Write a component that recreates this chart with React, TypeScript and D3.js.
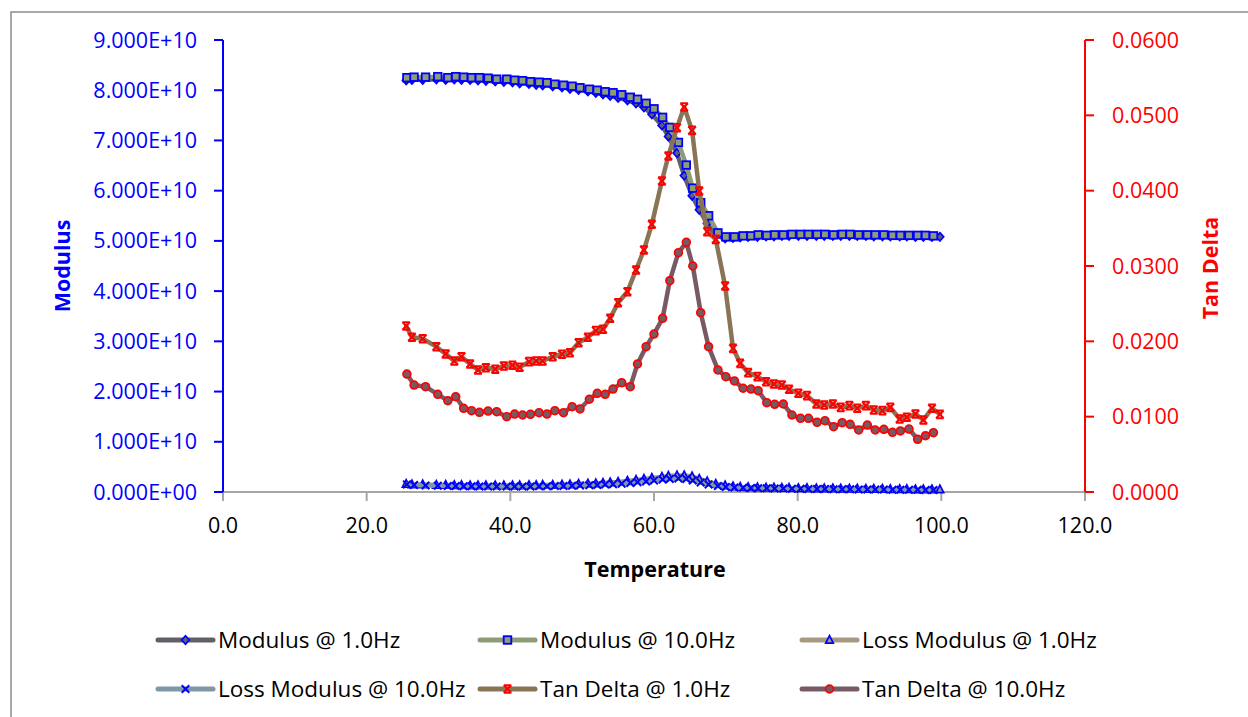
import React from 'react';
import * as d3 from 'd3';

// ---------- DATA ----------
const temp1Hz = [25.5, 26.3, 27.8, 29.7, 31.0, 32.2, 33.2, 34.4, 35.5, 36.6,
  37.9, 39.1, 40.3, 41.3, 42.6, 43.6, 44.5, 45.9, 47.2, 48.3,
  49.5, 50.8, 51.9, 52.9, 53.9, 55.0, 56.3, 57.5, 58.6, 59.7,
  61.1, 62.0, 63.2, 64.2, 65.3, 66.3, 67.4, 68.6, 69.9, 71.0,
  72.0, 73.1, 74.4, 75.6, 76.7, 77.8, 78.8, 80.1, 81.3, 82.6,
  83.7, 84.9, 86.0, 87.2, 88.3, 89.5, 90.6, 91.8, 92.9, 94.2,
  95.2, 96.4, 97.5, 98.7, 99.8];

const temp10Hz = [25.6, 26.6, 28.2, 29.9, 31.3, 32.4, 33.5, 34.6, 35.7, 36.9,
  38.1, 39.5, 40.6, 41.7, 42.8, 44.0, 45.1, 46.2, 47.4, 48.6,
  49.7, 51.0, 52.1, 53.2, 54.3, 55.5, 56.7, 57.7, 58.9, 60.0,
  61.2, 62.2, 63.4, 64.5, 65.4, 66.5, 67.6, 68.9, 70.0, 71.2,
  72.4, 73.5, 74.5, 75.7, 76.8, 78.0, 79.2, 80.4, 81.5, 82.7,
  83.8, 85.0, 86.2, 87.3, 88.5, 89.7, 90.8, 92.0, 93.2, 94.3,
  95.5, 96.7, 97.8, 98.9];

const modulus1Hz = [8.20e10, 8.21e10, 8.21e10, 8.22e10, 8.21e10, 8.22e10, 8.21e10, 8.21e10, 8.20e10, 8.19e10,
  8.18e10, 8.17e10, 8.16e10, 8.14e10, 8.13e10, 8.11e10, 8.10e10, 8.08e10, 8.06e10, 8.03e10,
  8.01e10, 7.98e10, 7.95e10, 7.92e10, 7.89e10, 7.85e10, 7.80e10, 7.74e10, 7.66e10, 7.52e10,
  7.30e10, 7.08e10, 6.75e10, 6.30e10, 5.90e10, 5.62e10, 5.35e10, 5.10e10, 5.05e10, 5.06e10,
  5.07e10, 5.08e10, 5.08e10, 5.09e10, 5.09e10, 5.10e10, 5.10e10, 5.10e10, 5.10e10, 5.10e10,
  5.10e10, 5.10e10, 5.10e10, 5.10e10, 5.10e10, 5.10e10, 5.09e10, 5.09e10, 5.09e10, 5.09e10,
  5.09e10, 5.08e10, 5.08e10, 5.08e10, 5.08e10];

const modulus10Hz = [8.25e10, 8.26e10, 8.26e10, 8.27e10, 8.25e10, 8.27e10, 8.26e10, 8.25e10, 8.25e10, 8.24e10,
  8.22e10, 8.22e10, 8.20e10, 8.19e10, 8.17e10, 8.16e10, 8.15e10, 8.12e10, 8.10e10, 8.08e10,
  8.05e10, 8.02e10, 8.00e10, 7.97e10, 7.95e10, 7.91e10, 7.86e10, 7.82e10, 7.74e10, 7.63e10,
  7.46e10, 7.26e10, 6.96e10, 6.51e10, 6.05e10, 5.76e10, 5.50e10, 5.16e10, 5.08e10, 5.08e10,
  5.10e10, 5.10e10, 5.12e10, 5.11e10, 5.12e10, 5.12e10, 5.13e10, 5.13e10, 5.13e10, 5.13e10,
  5.13e10, 5.12e10, 5.13e10, 5.13e10, 5.12e10, 5.12e10, 5.12e10, 5.12e10, 5.11e10, 5.11e10,
  5.11e10, 5.11e10, 5.11e10, 5.10e10];

const lossModulus1Hz = [1.6e9, 1.5e9, 1.5e9, 1.4e9, 1.4e9, 1.35e9, 1.35e9, 1.3e9, 1.3e9, 1.3e9,
  1.3e9, 1.3e9, 1.3e9, 1.3e9, 1.35e9, 1.35e9, 1.4e9, 1.4e9, 1.45e9, 1.5e9,
  1.6e9, 1.65e9, 1.7e9, 1.8e9, 1.9e9, 2.0e9, 2.2e9, 2.4e9, 2.6e9, 2.8e9,
  3.0e9, 3.2e9, 3.3e9, 3.3e9, 3.1e9, 2.6e9, 2.1e9, 1.6e9, 1.3e9, 1.1e9,
  1.0e9, 0.95e9, 0.9e9, 0.85e9, 0.85e9, 0.8e9, 0.8e9, 0.75e9, 0.75e9, 0.7e9,
  0.7e9, 0.7e9, 0.65e9, 0.65e9, 0.65e9, 0.6e9, 0.6e9, 0.6e9, 0.55e9, 0.55e9,
  0.55e9, 0.5e9, 0.5e9, 0.5e9, 0.5e9];

const lossModulus10Hz = [1.5e9, 1.4e9, 1.3e9, 1.25e9, 1.2e9, 1.2e9, 1.15e9, 1.15e9, 1.1e9, 1.1e9,
  1.1e9, 1.1e9, 1.1e9, 1.1e9, 1.1e9, 1.15e9, 1.15e9, 1.2e9, 1.2e9, 1.25e9,
  1.3e9, 1.35e9, 1.4e9, 1.5e9, 1.55e9, 1.65e9, 1.8e9, 1.95e9, 2.1e9, 2.3e9,
  2.5e9, 2.6e9, 2.7e9, 2.6e9, 2.3e9, 1.9e9, 1.5e9, 1.2e9, 1.0e9, 0.9e9,
  0.85e9, 0.8e9, 0.75e9, 0.75e9, 0.7e9, 0.7e9, 0.65e9, 0.65e9, 0.6e9, 0.6e9,
  0.6e9, 0.55e9, 0.55e9, 0.55e9, 0.5e9, 0.5e9, 0.5e9, 0.5e9, 0.45e9, 0.45e9,
  0.45e9, 0.45e9, 0.4e9, 0.4e9];

const tanDelta1Hz = [0.02204, 0.02054, 0.02035, 0.01929, 0.01832, 0.01739, 0.01796, 0.01699, 0.01620, 0.01650,
  0.01629, 0.01673, 0.01682, 0.01655, 0.01730, 0.01739, 0.01739, 0.01796, 0.01828, 0.01849,
  0.01982, 0.02054, 0.02142, 0.02160, 0.02306, 0.02513, 0.02659, 0.02947, 0.03213, 0.03554,
  0.04128, 0.04460, 0.04836, 0.05110, 0.04800, 0.03996, 0.03456, 0.03354, 0.02735, 0.01907,
  0.01708, 0.01584, 0.01531, 0.01464, 0.01434, 0.01420, 0.01363, 0.01310, 0.01279, 0.01168,
  0.01155, 0.01168, 0.01124, 0.01146, 0.01111, 0.01146, 0.01089, 0.01080, 0.01124, 0.00969,
  0.00992, 0.01035, 0.00956, 0.01111, 0.01031];

const tanDelta10Hz = [0.01566, 0.01420, 0.01398, 0.01297, 0.01212, 0.01265, 0.01111, 0.01080, 0.01058, 0.01075,
  0.01066, 0.01000, 0.01035, 0.01022, 0.01031, 0.01053, 0.01035, 0.01080, 0.01053, 0.01133,
  0.01102, 0.01231, 0.01310, 0.01297, 0.01367, 0.01451, 0.01398, 0.01699, 0.01929, 0.02097,
  0.02306, 0.02805, 0.03177, 0.03315, 0.03000, 0.02380, 0.01929, 0.01620, 0.01531, 0.01474,
  0.01377, 0.01367, 0.01345, 0.01186, 0.01164, 0.01168, 0.01022, 0.00978, 0.00978, 0.00925,
  0.00947, 0.00867, 0.00920, 0.00898, 0.00823, 0.00889, 0.00823, 0.00832, 0.00792, 0.00810,
  0.00836, 0.00700, 0.00747, 0.00787];

const xTicks = [0, 20, 40, 60, 80, 100, 120];
const leftTicks = [0, 1e10, 2e10, 3e10, 4e10, 5e10, 6e10, 7e10, 8e10, 9e10];
const rightTicks = [0, 0.01, 0.02, 0.03, 0.04, 0.05, 0.06];

const seriesNames = ['Modulus @ 1.0Hz', 'Modulus @ 10.0Hz', 'Loss Modulus @ 1.0Hz',
  'Loss Modulus @ 10.0Hz', 'Tan Delta @ 1.0Hz', 'Tan Delta @ 10.0Hz'];

// ---------- STYLE ----------
const FONT = "'Open Sans', 'Noto Sans', sans-serif";
const BLUE = '#0000ff';
const RED = '#ff0000';

type MarkerKind = 'diamond' | 'square' | 'triangle' | 'x' | 'star' | 'circle';

interface Series {
  name: string;
  temps: number[];
  values: number[];
  axis: 'left' | 'right';
  lineColor: string;
  marker: MarkerKind;
  markerStroke: string;
  markerFill: string;
}

const series: Series[] = [
  { name: seriesNames[0], temps: temp1Hz, values: modulus1Hz, axis: 'left', lineColor: '#606068', marker: 'diamond', markerStroke: BLUE, markerFill: '#606068' },
  { name: seriesNames[1], temps: temp10Hz, values: modulus10Hz, axis: 'left', lineColor: '#8e9c76', marker: 'square', markerStroke: BLUE, markerFill: '#8e9c76' },
  { name: seriesNames[2], temps: temp1Hz, values: lossModulus1Hz, axis: 'left', lineColor: '#a89a82', marker: 'triangle', markerStroke: BLUE, markerFill: '#a89a82' },
  { name: seriesNames[3], temps: temp10Hz, values: lossModulus10Hz, axis: 'left', lineColor: '#8097a6', marker: 'x', markerStroke: BLUE, markerFill: 'none' },
  { name: seriesNames[4], temps: temp1Hz, values: tanDelta1Hz, axis: 'right', lineColor: '#8a7456', marker: 'star', markerStroke: RED, markerFill: 'none' },
  { name: seriesNames[5], temps: temp10Hz, values: tanDelta10Hz, axis: 'right', lineColor: '#785a65', marker: 'circle', markerStroke: RED, markerFill: '#785a65' },
];

function Marker({ kind, x, y, stroke, fill }: { kind: MarkerKind; x: number; y: number; stroke: string; fill: string }) {
  const s = 3.8;
  switch (kind) {
    case 'diamond':
      return <path d={`M${x},${y - s - 0.4}L${x + s},${y}L${x},${y + s + 0.4}L${x - s},${y}Z`} fill={fill} stroke={stroke} strokeWidth={1.7} />;
    case 'square':
      return <rect x={x - s} y={y - s} width={2 * s} height={2 * s} fill={fill} stroke={stroke} strokeWidth={1.8} />;
    case 'triangle':
      return <path d={`M${x},${y - s - 0.6}L${x + s},${y + s - 0.6}L${x - s},${y + s - 0.6}Z`} fill={fill} stroke={stroke} strokeWidth={1.7} />;
    case 'x':
      return <path d={`M${x - s},${y - s}L${x + s},${y + s}M${x - s},${y + s}L${x + s},${y - s}`} stroke={stroke} strokeWidth={2} fill="none" />;
    case 'star':
      return <path d={`M${x - s},${y - s}L${x + s},${y + s}M${x - s},${y + s}L${x + s},${y - s}M${x - s},${y - s}L${x + s},${y - s}M${x - s},${y + s}L${x + s},${y + s}`} stroke={stroke} strokeWidth={2} fill="none" />;
    case 'circle':
      return <circle cx={x} cy={y} r={3.9} fill={fill} stroke={stroke} strokeWidth={1.7} />;
  }
}

function fmtSci(v: number): string {
  if (v === 0) return '0.000E+00';
  const e = Math.floor(Math.log10(Math.abs(v)));
  const m = v / Math.pow(10, e);
  return `${m.toFixed(3)}E${e >= 0 ? '+' : '-'}${String(Math.abs(e)).padStart(2, '0')}`;
}

export default function App() {
  const W = 1248, H = 717;
  const x = d3.scaleLinear().domain([0, 120]).range([223, 1085]);
  const yL = d3.scaleLinear().domain([0, 9e10]).range([492, 40]);
  const yR = d3.scaleLinear().domain([0, 0.06]).range([492, 40]);
  const fmtX = d3.format('.1f');
  const fmtR = d3.format('.4f');

  const legendCols = [158, 480, 802];
  const legendRows = [640, 689];

  return (
    <svg width={W} height={H} style={{ position: 'absolute', left: 0, top: 0, background: '#fff' }} fontFamily={FONT}>
      <rect x={0} y={0} width={W} height={H} fill="#fff" />
      {/* chart area border */}
      <rect x={11} y={12} width={W + 20} height={H + 20} fill="none" stroke="#8c8c8c" strokeWidth={1.5} />

      {/* x axis */}
      <line x1={x(0)} x2={x(120)} y1={492} y2={492} stroke="#a6a6a6" strokeWidth={2} />
      {xTicks.map(t => (
        <g key={`xt${t}`}>
          <line x1={x(t)} x2={x(t)} y1={492} y2={501} stroke="#a6a6a6" strokeWidth={2} />
          <text x={x(t)} y={533} textAnchor="middle" fontSize={21.5} fill="#000">{fmtX(t)}</text>
        </g>
      ))}
      <text x={655} y={577} textAnchor="middle" fontSize={21.5} fontWeight="bold" fill="#000">Temperature</text>

      {/* left axis */}
      <line x1={223} x2={223} y1={40} y2={492} stroke={BLUE} strokeWidth={2} />
      {leftTicks.map(t => (
        <g key={`lt${t}`}>
          <line x1={214} x2={223} y1={yL(t)} y2={yL(t)} stroke={BLUE} strokeWidth={2} />
          <text x={197} y={yL(t)} dy="0.35em" textAnchor="end" fontSize={21.5} fill={BLUE}>{fmtSci(t)}</text>
        </g>
      ))}
      <text transform={`translate(62,266) rotate(-90)`} textAnchor="middle" dy="0.35em" fontSize={21.5} fontWeight="bold" fill={BLUE}>Modulus</text>

      {/* right axis */}
      <line x1={1085} x2={1085} y1={40} y2={492} stroke={RED} strokeWidth={2} />
      {rightTicks.map(t => (
        <g key={`rt${t}`}>
          <line x1={1085} x2={1094} y1={yR(t)} y2={yR(t)} stroke={RED} strokeWidth={2} />
          <text x={1112} y={yR(t)} dy="0.35em" textAnchor="start" fontSize={21.5} fill={RED}>{fmtR(t)}</text>
        </g>
      ))}
      <text transform={`translate(1210,268) rotate(-90)`} textAnchor="middle" dy="0.35em" fontSize={21.5} fontWeight="bold" fill={RED}>Tan Delta</text>

      {/* series */}
      {series.map((s, si) => {
        const yS = s.axis === 'left' ? yL : yR;
        const line = d3.line<number>().x((_, i) => x(s.temps[i])).y(v => yS(v));
        return (
          <g key={`s${si}`}>
            <path d={line(s.values) || ''} fill="none" stroke={s.lineColor} strokeWidth={4.5} strokeLinejoin="round" strokeLinecap="round" />
            {s.values.map((v, i) => (
              <Marker key={i} kind={s.marker} x={x(s.temps[i])} y={yS(v)} stroke={s.markerStroke} fill={s.markerFill} />
            ))}
          </g>
        );
      })}

      {/* legend */}
      {series.map((s, si) => {
        const lx = legendCols[si % 3];
        const ly = legendRows[Math.floor(si / 3)];
        return (
          <g key={`lg${si}`}>
            <line x1={lx} x2={lx + 55} y1={ly} y2={ly} stroke={s.lineColor} strokeWidth={5} strokeLinecap="round" />
            <Marker kind={s.marker} x={lx + 27.5} y={ly} stroke={s.markerStroke} fill={s.markerFill} />
            <text x={lx + 60} y={ly} dy="0.35em" fontSize={22.5} fill="#000">{s.name}</text>
          </g>
        );
      })}
    </svg>
  );
}
